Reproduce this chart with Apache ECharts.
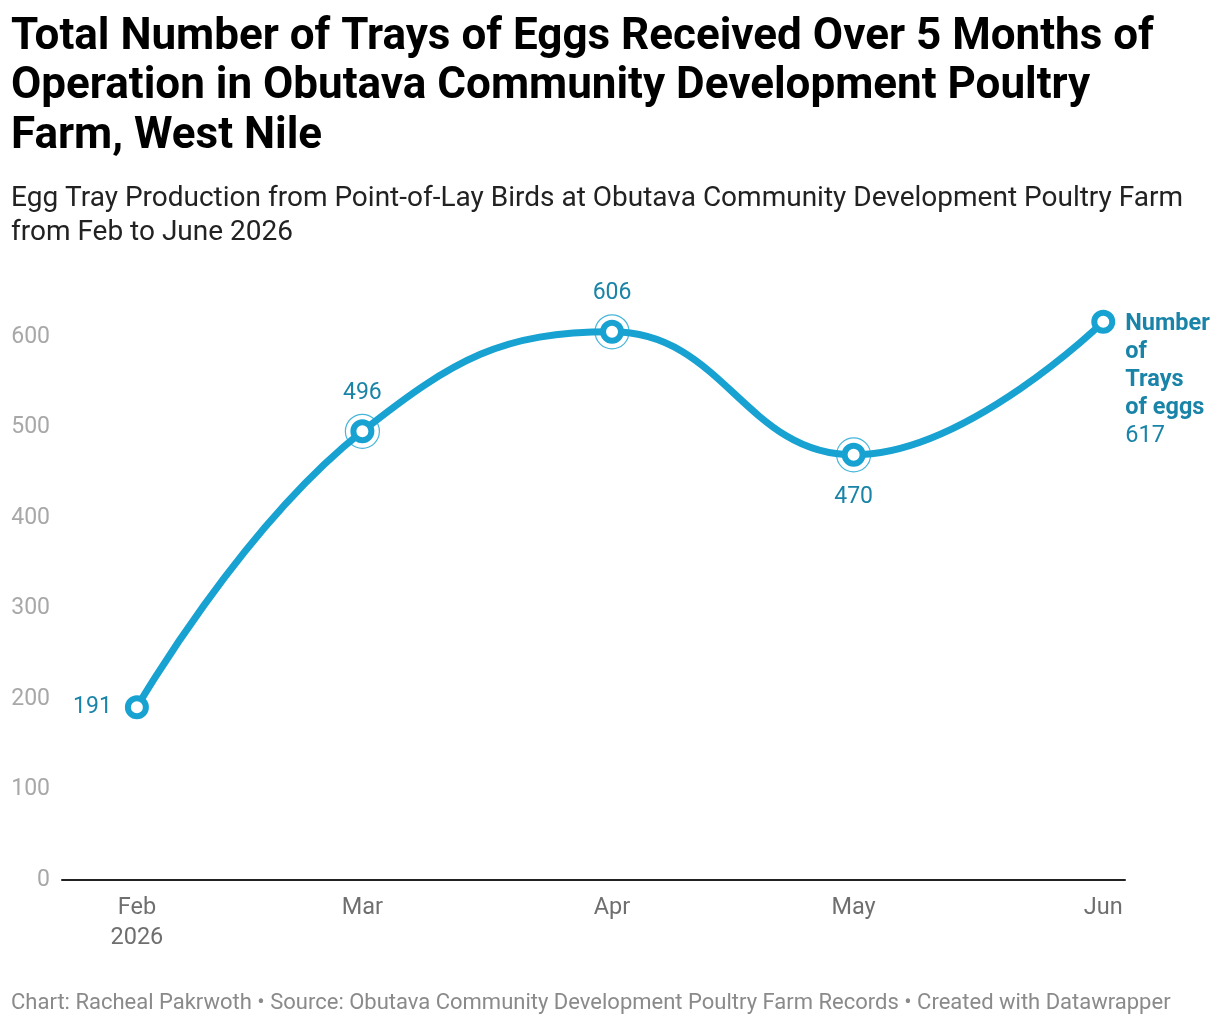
<!DOCTYPE html>
<html><head><meta charset="utf-8">
<script src="https://cdn.jsdelivr.net/npm/echarts@6/dist/echarts.min.js"></script>
<style>html,body{margin:0;padding:0;background:#fff}#c{width:1220px;height:1026px}</style>
</head><body><div id="c"></div>
<script>
const months = ['2026-02-01','2026-03-01','2026-04-01','2026-05-01','2026-06-01'];
const monthLabels = ['Feb\n2026','Mar','Apr','May','Jun'];
const trays = [191, 496, 606, 470, 617];
const highlighted = [false, true, true, true, false];
const yTicks = [0, 100, 200, 300, 400, 500, 600];
const seriesName = 'Number of Trays of eggs';

const BLUE = '#18a2d1';
const LBL = '#1a84a8';
const FONT = 'Roboto';

function ts(s){ const p = s.split('-').map(Number); return Date.UTC(p[0], p[1]-1, p[2]); }
const day = 864e5;
const monthTs = months.map(ts);
const xMin = monthTs[0] - 9.3*day;
const xMax = monthTs[monthTs.length-1] + 2.7*day;

const labelPos = [
  {position:'left', distance:13},
  {position:'top', distance:15},
  {position:'top', distance:15},
  {position:'bottom', distance:19},
  null
];

const lineData = trays.map((v,i)=>{
  const d = {value:[monthTs[i], v]};
  if (labelPos[i]) {
    d.label = Object.assign({show:true, formatter:String(v)}, labelPos[i]);
  } else {
    d.label = {show:true, position:'right', distance:10, offset:[0,58], align:'left',
      formatter: '{b|Number}\n{b|of}\n{b|Trays}\n{b|of eggs}\n{n|' + v + '}',
      rich:{b:{fontFamily:FONT,fontWeight:'bold',fontSize:23.5,lineHeight:28,color:LBL},
            n:{fontFamily:FONT,fontSize:23.5,lineHeight:28,color:LBL}}};
  }
  return d;
});
const ringData = trays.map((v,i)=> highlighted[i] ? [monthTs[i], v] : null).filter(Boolean);

const chart = echarts.init(document.getElementById('c'));
chart.setOption({
  animation:false,
  textStyle:{fontFamily:FONT},
  title:[
    {text:'Total Number of Trays of Eggs Received Over 5 Months of\nOperation in Obutava Community Development Poultry\nFarm, West Nile',
     left:11, top:13, padding:0,
     textStyle:{fontFamily:FONT,fontWeight:'bold',fontSize:44,lineHeight:49.5,color:'#000'}},
    {text:'Egg Tray Production from Point-of-Lay Birds at Obutava Community Development Poultry Farm\nfrom Feb to June 2026',
     left:11, top:182, padding:0,
     textStyle:{fontFamily:FONT,fontWeight:'normal',fontSize:28,lineHeight:34,color:'#222'}},
    {text:'Chart: Racheal Pakrwoth • Source: Obutava Community Development Poultry Farm Records • Created with Datawrapper',
     left:11, top:990, padding:0,
     textStyle:{fontFamily:FONT,fontWeight:'normal',fontSize:22,lineHeight:26,color:'#8a8a8a'}}
  ],
  grid:{left:62, right:95, top:292, bottom:146, containLabel:false},
  xAxis:{
    type:'value', min:xMin, max:xMax,
    axisLine:{show:true, onZero:false, lineStyle:{color:'#222', width:2}},
    axisTick:{show:false},
    splitLine:{show:false},
    axisLabel:{
      customValues: monthTs,
      formatter:(val)=>{ const i = monthTs.indexOf(val); return i>=0 ? monthLabels[i] : ''; },
      fontFamily:FONT, fontSize:23.5, lineHeight:30, color:'#6f6f6f', margin:13, hideOverlap:false
    }
  },
  yAxis:{
    type:'value', min:0, max:650, interval:100,
    axisLine:{show:false}, axisTick:{show:false}, splitLine:{show:false},
    axisLabel:{customValues:yTicks, fontFamily:FONT, fontSize:23, color:'#a8a8a8', margin:12, padding:[5,0,0,0]}
  },
  series:[
    {type:'line', name:seriesName, data:lineData, smooth:0.45,
     lineStyle:{color:BLUE, width:7},
     symbol:'circle', symbolSize:18, showAllSymbol:true,
     itemStyle:{color:'#fff', borderColor:BLUE, borderWidth:6},
     label:{fontFamily:FONT, fontSize:23, color:LBL},
     z:3},
    {type:'scatter', data:ringData, symbol:'circle', symbolSize:34,
     itemStyle:{color:'rgba(0,0,0,0)', borderColor:BLUE, borderWidth:1.2},
     silent:true, z:2}
  ]
});
</script></body></html>
